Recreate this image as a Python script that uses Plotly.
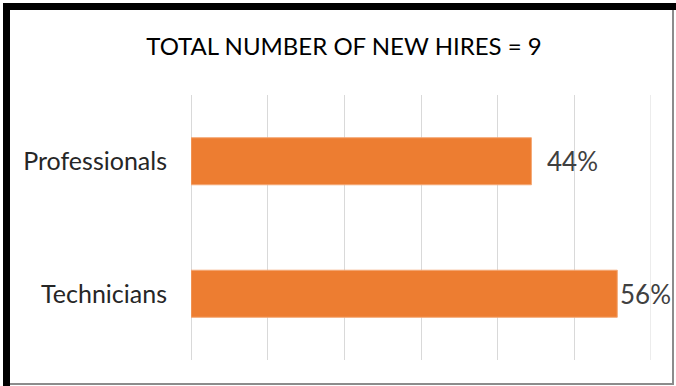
import plotly.graph_objects as go

categories = ['Technicians', 'Professionals']
shares = [0.556, 0.444]
labels = ['56%', '44%']

W, H = 676, 386
L, R, T, B = 191, 25, 95, 26
FONT = 'Lato, Liberation Sans, sans-serif'
GRID = '#D9D9D9'


def px(x):
    return (x - L) / (W - L - R)


def py(y):
    return (H - B - y) / (H - T - B)


fig = go.Figure(go.Bar(
    x=shares, y=categories, orientation='h',
    marker=dict(color='#ED7D31', line=dict(color='#F4A774', width=1)),
    width=0.355, hoverinfo='skip',
))

# etiquetas de valor à direita das barras
for cat, val, lab, shift in zip(categories, shares, labels, [1, 14]):
    fig.add_annotation(x=val, y=cat, text=lab, showarrow=False,
                       xanchor='left', xshift=shift,
                       font=dict(family=FONT, size=26, color='#404040'))

# linha de grade da borda direita (plotly não desenha a da borda)
fig.add_shape(type='line', xref='x', yref='paper', x0=0.6, x1=0.6, y0=0, y1=1,
              line=dict(color=GRID, width=1), layer='below')

# moldura: preta grossa em cima/esquerda, cinza fina à direita/embaixo
fig.add_shape(type='line', xref='paper', yref='paper', x0=px(673), x1=px(673),
              y0=py(10), y1=py(385), line=dict(color='#8C8C8C', width=2))
fig.add_shape(type='line', xref='paper', yref='paper', x0=px(10), x1=px(673),
              y0=py(384), y1=py(384), line=dict(color='#8C8C8C', width=2))
fig.add_shape(type='rect', xref='paper', yref='paper', x0=px(3), x1=px(10),
              y0=py(386), y1=py(3), line_width=0, fillcolor='black')
fig.add_shape(type='rect', xref='paper', yref='paper', x0=px(3), x1=px(676),
              y0=py(10), y1=py(3), line_width=0, fillcolor='black')

fig.update_layout(
    width=W, height=H,
    margin=dict(l=L, r=R, t=T, b=B),
    paper_bgcolor='white', plot_bgcolor='white',
    showlegend=False,
    title=dict(text='TOTAL NUMBER OF NEW HIRES = 9', x=344 / W, xanchor='center',
               y=1 - 47 / H, yanchor='middle',
               font=dict(family=FONT, size=24, color='black')),
)
fig.update_xaxes(range=[0, 0.6], dtick=0.1, showgrid=True, gridcolor=GRID,
                 gridwidth=1, showticklabels=False, zeroline=True,
                 zerolinecolor=GRID, zerolinewidth=1, fixedrange=True)
fig.update_yaxes(showgrid=False, zeroline=False, ticklabelstandoff=23,
                 tickfont=dict(family=FONT, size=25, color='#262626'), fixedrange=True)

# tira a margem padrão do body para o gráfico ocupar a janela toda
fig.write_html('out.html', config={'displayModeBar': False},
               post_script="document.body.style.margin='0';")
